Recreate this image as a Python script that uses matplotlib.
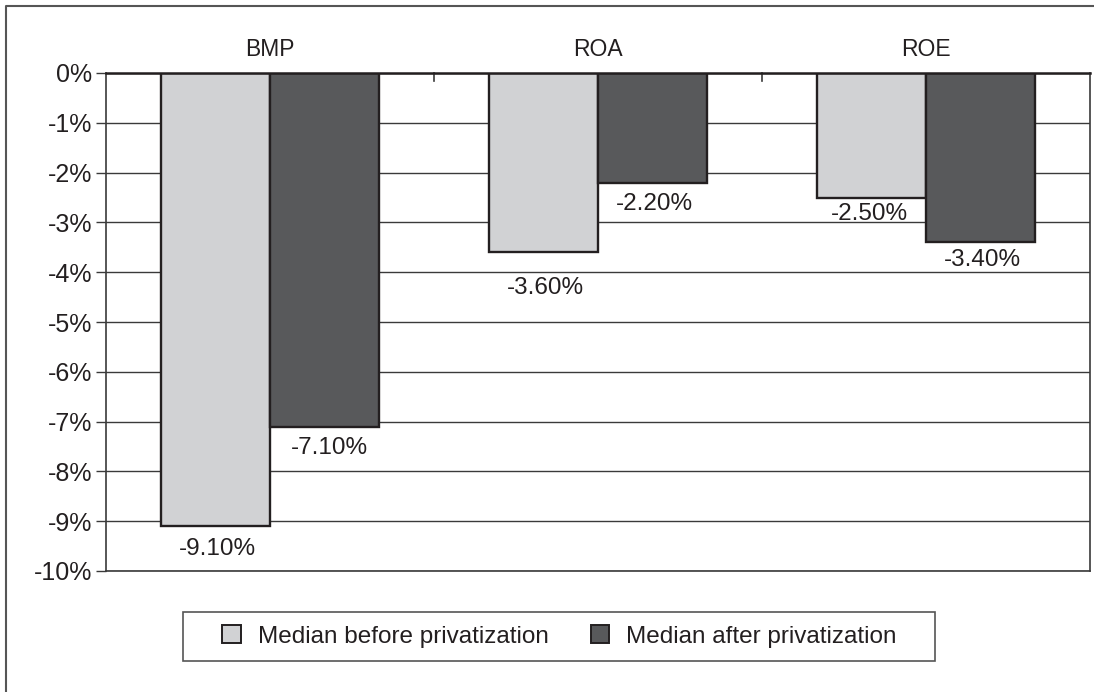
import matplotlib
matplotlib.use("Agg")
import matplotlib.pyplot as plt
from matplotlib.lines import Line2D
from matplotlib.patches import Patch, Rectangle
from matplotlib import font_manager
import numpy as np

plt.rcParams['font.family'] = ['Liberation Sans', 'DejaVu Sans']

categories = ["BMP", "ROA", "ROE"]
before = [-9.10, -3.60, -2.50]
after = [-7.10, -2.20, -3.40]
series_names = ["Median before privatization", "Median after privatization"]
y_ticks = [0, -1, -2, -3, -4, -5, -6, -7, -8, -9, -10]

# label nudges in pixels (dx, gap below bar end)
before_label_shift = [(2, 12), (2, 25), (-2, 5)]
after_label_shift = [(5, 10), (2, 10), (2, 7)]

light = "#d1d2d4"
dark = "#58595b"
edge = "#231f20"
grid_col = "#3a3a3a"
text_col = "#231f20"

names = {f.name for f in font_manager.fontManager.ttflist}
narrow = "Liberation Sans Narrow" in names

W, H = 1094, 692
fig = plt.figure(figsize=(W / 100, H / 100), dpi=100)
ax = fig.add_axes([106 / W, 1 - 571 / H, (1090 - 106) / W, (571 - 73) / H])

x = np.arange(len(categories))
bw = 1 / 3
b1 = ax.bar(x - bw / 2, before, bw, color=light, edgecolor=edge, linewidth=1.7, zorder=3)
b2 = ax.bar(x + bw / 2, after, bw, color=dark, edgecolor=edge, linewidth=1.7, zorder=3)

ax.set_xlim(-0.5, len(categories) - 0.5)
ax.set_ylim(-10, 0)
ax.set_yticks(y_ticks)
ax.set_yticklabels([f"{t}%" for t in y_ticks], fontsize=18, color=text_col)
ax.yaxis.grid(True, color=grid_col, linewidth=1.0, zorder=1)
ax.tick_params(axis='y', length=7, width=1.0, color=grid_col, pad=3)

# category labels sit above the zero line
ax.xaxis.set_ticks_position('top')
ax.set_xticks(x)
if narrow:
    ax.set_xticklabels(categories, fontsize=17.5, color=text_col,
                       family=["Liberation Sans Narrow", "DejaVu Sans"])
else:
    ax.set_xticklabels(categories, fontsize=16.5, color=text_col)
ax.tick_params(axis='x', length=0, pad=9)
for b in [0.5, 1.5]:
    ax.plot([b, b], [0, -0.16], color=grid_col, linewidth=1.2, zorder=4, clip_on=False)

for side in ['left', 'bottom', 'right']:
    ax.spines[side].set_color(grid_col)
    ax.spines[side].set_linewidth(1.2)
ax.spines['top'].set_color(edge)
ax.spines['top'].set_linewidth(1.8)
ax.spines['top'].set_zorder(5)

# value labels below each bar end
for bars, vals, shifts in [(b1, before, before_label_shift), (b2, after, after_label_shift)]:
    for r, v, (dx, dy) in zip(bars, vals, shifts):
        ax.annotate(f"{v:.2f}%", (r.get_x() + r.get_width() / 2, v),
                    xytext=(dx, -dy), textcoords="offset pixels",
                    ha="center", va="top", fontsize=17.5, color=text_col, zorder=6)

# legend: frame drawn as its own box, entries centred inside
fig.add_artist(Rectangle((183 / W, 1 - 661 / H), (935 - 183) / W, (661 - 612) / H,
                         transform=fig.transFigure, facecolor="white",
                         edgecolor="#555555", linewidth=1.2, zorder=1))
handles = [Patch(facecolor=light, edgecolor=edge, linewidth=1.4),
           Patch(facecolor=dark, edgecolor=edge, linewidth=1.4)]
leg = fig.legend(handles, series_names, loc="center",
                 bbox_to_anchor=(559.5 / W, 1 - 636.5 / H), ncol=2,
                 fontsize=17.5, frameon=False,
                 handlelength=0.75, handleheight=0.78, handletextpad=0.7,
                 columnspacing=1.75, borderpad=0.0, borderaxespad=0)
leg.set_zorder(2)
for t in leg.get_texts():
    t.set_color(text_col)

# outer frame (left and top edges)
fig.add_artist(Line2D([6 / W, 6 / W, 1], [0, 1 - 6 / H, 1 - 6 / H],
                      transform=fig.transFigure, color="#555555", linewidth=1.5))

fig.savefig("out.png", dpi=100, facecolor="white")
